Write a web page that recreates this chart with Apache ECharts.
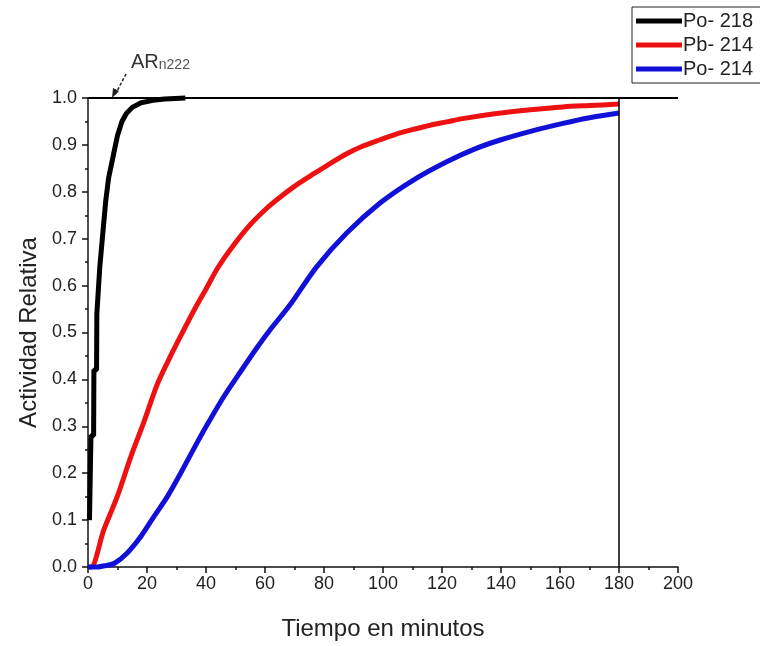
<!DOCTYPE html>
<html>
<head>
<meta charset="utf-8">
<script src="https://cdn.jsdelivr.net/npm/echarts@6/dist/echarts.min.js"></script>
<style>
html,body{margin:0;padding:0;background:#fff;}
#chart{width:760px;height:646px;}
</style>
</head>
<body>
<div id="chart"></div>
<script>
// ---- data ----
const seriesNames = ['Po- 218', 'Pb- 214', 'Po- 214'];
const po218Time = [0.5, 0.9, 1, 1.9, 2, 2.9, 3, 4, 5, 6, 7, 8.5, 10, 11.5, 13, 15, 18, 22, 26, 33];
const po218Val  = [0.10, 0.10, 0.28, 0.28, 0.42, 0.42, 0.54, 0.64, 0.71, 0.78, 0.83, 0.875, 0.92, 0.95, 0.967, 0.98, 0.99, 0.995, 0.998, 1.0];
const pb214Time = [0, 1, 5.4, 9.9, 14.5, 19, 23.5, 28, 31.2, 36, 40.2, 44, 49.2, 55, 60.6, 65, 69.6, 76.4, 81, 87.7, 93, 99, 105, 110.3, 116, 121.6, 127, 138.5, 150, 161, 170, 180];
const pb214Val  = [0, 0.0, 0.08, 0.15, 0.235, 0.31, 0.39, 0.45, 0.49, 0.548, 0.595, 0.638, 0.685, 0.73, 0.765, 0.788, 0.81, 0.838, 0.856, 0.881, 0.897, 0.911, 0.924, 0.933, 0.942, 0.949, 0.956, 0.967, 0.975, 0.981, 0.984, 0.987];
const po214Time = [0, 3, 6, 9, 13.3, 17.9, 22.4, 26.9, 31.4, 36.8, 41, 45.9, 51, 57.2, 62, 68.5, 77.5, 87.7, 99, 110.3, 121.6, 131.8, 140, 150, 161, 170, 180];
const po214Val  = [0, 0, 0.003, 0.008, 0.03, 0.065, 0.108, 0.15, 0.2, 0.263, 0.31, 0.362, 0.41, 0.467, 0.508, 0.559, 0.64, 0.712, 0.776, 0.825, 0.864, 0.893, 0.911, 0.929, 0.946, 0.958, 0.968];
const xTicks = [0, 20, 40, 60, 80, 100, 120, 140, 160, 180, 200];
const yTicks = [0.0, 0.1, 0.2, 0.3, 0.4, 0.5, 0.6, 0.7, 0.8, 0.9, 1.0];
const xTitle = 'Tiempo en minutos';
const yTitle = 'Actividad Relativa';
const refLineY = 1.0;
const refLineX = 180;

function zip(a, b) { return a.map((v, i) => [v, b[i]]); }

const font = 'Liberation Sans, Arial, sans-serif';
const chart = echarts.init(document.getElementById('chart'));
const lineSeries = (name, t, v, color, smooth) => ({
  name: name, type: 'line', data: zip(t, v), showSymbol: false, symbol: 'none',
  smooth: smooth,
  lineStyle: { color: color, width: 5 }, itemStyle: { color: color }, clip: false,
  z: 3
});

const option = {
  animation: false,
  backgroundColor: '#fff',
  grid: { left: 88, right: 82, top: 98, bottom: 75 },
  legend: {
    data: seriesNames,
    orient: 'vertical',
    left: 632, top: 7,
    padding: [4, 40, 4, 4],
    itemGap: 4,
    itemWidth: 46, itemHeight: 5,
    borderColor: '#222', borderWidth: 1,
    icon: 'rect',
    textStyle: { fontFamily: font, fontSize: 20, color: '#222', padding: [0,0,0,-4] }
  },
  xAxis: {
    type: 'value', min: 0, max: 200, interval: 20,
    name: xTitle, nameLocation: 'middle', nameGap: 50,
    nameTextStyle: { fontFamily: font, fontSize: 24, color: '#222' },
    axisLine: { show: true, lineStyle: { color: '#111', width: 1.5 } },
    axisTick: { show: true, inside: false, length: 6, lineStyle: { color: '#111', width: 1.5 } },
    minorTick: { show: true, splitNumber: 2, length: 3, lineStyle: { color: '#111', width: 1.5 } },
    splitLine: { show: false },
    axisLabel: { fontFamily: font, fontSize: 18, color: '#222', margin: 8,
      formatter: v => xTicks.includes(v) ? String(v) : '' }
  },
  yAxis: {
    type: 'value', min: 0, max: 1, interval: 0.1,
    name: yTitle, nameLocation: 'middle', nameGap: 45,
    nameTextStyle: { fontFamily: font, fontSize: 24, color: '#222' },
    axisLine: { show: true, onZero: false, lineStyle: { color: '#111', width: 1.5 } },
    axisTick: { show: true, inside: false, length: 6, lineStyle: { color: '#111', width: 1.5 } },
    minorTick: { show: true, splitNumber: 2, length: 3, lineStyle: { color: '#111', width: 1.5 } },
    splitLine: { show: false },
    axisLabel: { fontFamily: font, fontSize: 18, color: '#222', margin: 11,
      formatter: v => { const r = Math.round(v * 10) / 10; return yTicks.includes(r) ? r.toFixed(1) : ''; } }
  },
  series: [
    Object.assign(lineSeries(seriesNames[0], po218Time, po218Val, '#000000', false), {
      markLine: {
        silent: true, symbol: 'none', animation: false,
        label: { show: false },
        data: [
          [{ coord: [0, refLineY], lineStyle: { color: '#000', width: 2, type: 'solid' } }, { coord: [200, refLineY] }],
          [{ coord: [refLineX, 0], lineStyle: { color: '#000', width: 1.5, type: 'solid' } }, { coord: [refLineX, refLineY] }]
        ]
      }
    }),
    lineSeries(seriesNames[1], pb214Time, pb214Val, '#ee1111', 0.3),
    lineSeries(seriesNames[2], po214Time, po214Val, '#1010d8', 0.3)
  ],
  graphic: [
    {
      type: 'text', left: 131, top: 52, z: 10,
      style: {
        text: '{a|AR}{b|n222}',
        rich: {
          a: { fontFamily: font, fontSize: 20, fill: '#333' },
          b: { fontFamily: font, fontSize: 14, fill: '#555', padding: [6, 0, 0, 0] }
        }
      }
    },
    {
      type: 'line', z: 10,
      shape: { x1: 126, y1: 74, x2: 115, y2: 95 },
      style: { stroke: '#222', lineWidth: 1.5, lineDash: [3, 2] }
    },
    {
      type: 'polygon', z: 10,
      shape: { points: [[112, 98], [113, 88], [119, 91]] },
      style: { fill: '#222' }
    }
  ]
};
chart.setOption(option);
</script>
</body>
</html>
